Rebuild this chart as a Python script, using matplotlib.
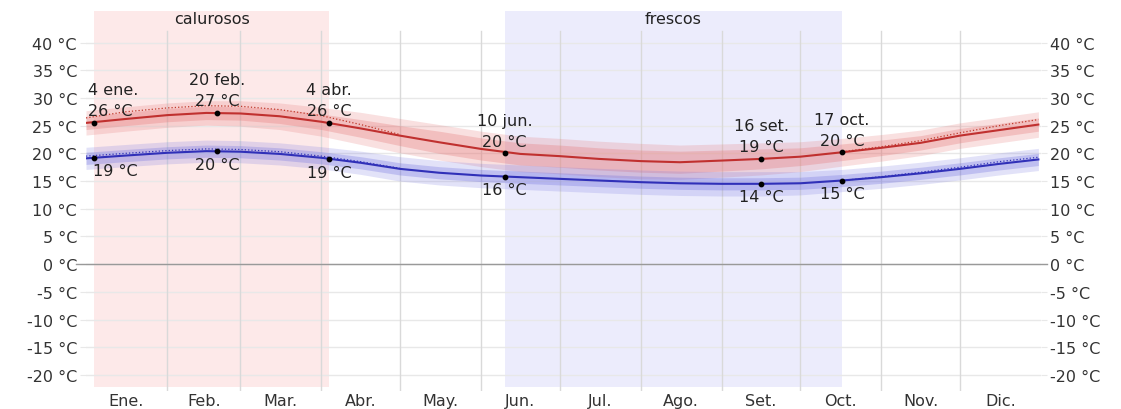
# Temperaturas máximas y mínimas promedio durante el año
import matplotlib.pyplot as plt
import numpy as np

plt.rcParams['font.family'] = ['DejaVu Sans']

# días del año (0 = 1 ene.) donde se leyeron los valores
days = [0, 15, 31, 46, 59, 74, 90, 105, 120, 135, 151, 166, 181, 196,
        212, 227, 243, 258, 273, 289, 304, 319, 334, 349, 364]

# máxima promedio (línea roja)
t_max = [25.5, 26.2, 26.9, 27.3, 27.2, 26.7, 25.7, 24.5, 23.2, 22.0, 20.8, 19.9, 19.5, 19.0,
         18.6, 18.4, 18.7, 19.0, 19.4, 20.2, 21.0, 21.9, 23.2, 24.2, 25.2]
# mínima promedio (línea azul)
t_min = [19.1, 19.6, 20.1, 20.4, 20.3, 19.9, 19.2, 18.3, 17.2, 16.5, 16.0, 15.7, 15.4, 15.1,
         14.8, 14.6, 14.5, 14.5, 14.6, 15.1, 15.7, 16.4, 17.2, 18.1, 18.9]

# semiancho de las bandas 25-75 y 10-90
max_in = [1.2, 1.2, 1.2, 1.2, 1.2, 1.3, 1.4, 1.6, 1.8, 2.0, 2.0, 2.0, 2.0, 2.0,
          2.0, 2.0, 1.9, 1.8, 1.6, 1.5, 1.4, 1.3, 1.3, 1.2, 1.2]
max_out = [2.2, 2.2, 2.2, 2.2, 2.3, 2.4, 2.6, 2.9, 3.1, 3.2, 3.2, 3.2, 3.2, 3.2,
           3.2, 3.1, 3.0, 2.9, 2.7, 2.5, 2.4, 2.3, 2.3, 2.3, 2.3]
min_in = [1.1] * 25
min_out = [2.0, 2.0, 2.0, 2.0, 2.0, 2.0, 2.0, 2.1, 2.2, 2.2, 2.2, 2.2, 2.2, 2.2,
           2.2, 2.2, 2.2, 2.2, 2.1, 2.0, 2.0, 2.0, 2.0, 2.0, 2.0]

# temperatura percibida (líneas punteadas)
feel_days_a = [0, 15, 31, 46, 59, 74, 90, 105, 120]
feel_max_a = [26.4, 27.5, 28.2, 28.6, 28.5, 27.9, 26.8, 25.2, 23.4]
feel_min_a = [19.5, 20.0, 20.5, 20.8, 20.7, 20.3, 19.5, 18.5, 17.3]
feel_days_b = [289, 304, 319, 334, 349, 364]
feel_max_b = [20.3, 21.2, 22.3, 23.7, 25.0, 26.1]
feel_min_b = [15.1, 15.8, 16.6, 17.5, 18.5, 19.3]

# puntos destacados
hi_days = [3, 50, 93, 160, 258, 289]
hi_vals = [25.5, 27.3, 25.5, 20.0, 19.0, 20.2]
hi_labels = ['26 °C', '27 °C', '26 °C', '20 °C', '19 °C', '20 °C']
hi_dates = ['4 ene.', '20 feb.', '4 abr.', '10 jun.', '16 set.', '17 oct.']
lo_days = [3, 50, 93, 160, 258, 289]
lo_vals = [19.2, 20.4, 18.9, 15.8, 14.5, 15.1]
lo_labels = ['19 °C', '20 °C', '19 °C', '16 °C', '14 °C', '15 °C']

# estaciones
hot_season = (3, 93)
cool_season = (160, 289)

months = ['Ene.', 'Feb.', 'Mar.', 'Abr.', 'May.', 'Jun.',
          'Jul.', 'Ago.', 'Set.', 'Oct.', 'Nov.', 'Dic.']
month_len = [31, 28, 31, 30, 31, 30, 31, 31, 30, 31, 30, 31]

FS = 11.5
W, H = 1121, 410
fig = plt.figure(figsize=(W / 100, H / 100), dpi=100)
ax = fig.add_axes([86 / W, 18 / H, 955 / W, 380 / H])
ax.set_xlim(0, 365)
ax.set_ylim(-22.9, 45.7)
for s in ax.spines.values():
    s.set_visible(False)

# bandas de estación
band_lo = 4 / 380
ax.axvspan(*hot_season, ymin=band_lo, ymax=1, color='#fde9e9', lw=0, zorder=0)
ax.axvspan(*cool_season, ymin=band_lo, ymax=1, color='#ececfc', lw=0, zorder=0)
xt = ax.get_xaxis_transform()
ax.text(sum(hot_season) / 2, 0.979, 'calurosos', transform=xt, ha='center', va='center',
        fontsize=FS, color='#222')
ax.text(sum(cool_season) / 2, 0.979, 'frescos', transform=xt, ha='center', va='center',
        fontsize=FS, color='#222')

# rejilla
starts = np.cumsum([0] + month_len)
for d in starts[1:-1]:
    ax.axvline(d, ymin=0, ymax=360 / 380, color='#d9d9d9', lw=1, zorder=1)
ax.set_yticks(range(-20, 45, 5))
ax.set_yticklabels([f'{v} °C' for v in range(-20, 45, 5)])
ax.yaxis.grid(True, color='#e8e8e8', lw=1, zorder=1)
ax.set_axisbelow(True)
ax.tick_params(axis='y', left=True, right=True, labelleft=True, labelright=True,
               length=4.5, color='#e8e8e8', pad=2, labelsize=FS, labelcolor='#333')
ax.plot([-0.01, 1.006], [0, 0], transform=ax.get_yaxis_transform(), color='#999',
        lw=1, clip_on=False, zorder=1)

centers = starts[:-1] + np.array(month_len) / 2
ax.set_xticks(centers)
ax.set_xticklabels(months)
ax.tick_params(axis='x', length=0, pad=1.5, labelsize=FS, labelcolor='#333')

# bandas de percentiles
d = np.array(days)
tx, tn = np.array(t_max), np.array(t_min)
ax.fill_between(d, tx - np.array(max_out), tx + np.array(max_out), color='#e57373', alpha=0.22, lw=0, zorder=2)
ax.fill_between(d, tx - np.array(max_in), tx + np.array(max_in), color='#e57373', alpha=0.3, lw=0, zorder=2)
ax.fill_between(d, tn - np.array(min_out), tn + np.array(min_out), color='#7070e0', alpha=0.2, lw=0, zorder=2)
ax.fill_between(d, tn - np.array(min_in), tn + np.array(min_in), color='#7070e0', alpha=0.3, lw=0, zorder=2)

# percibida
for fd, fv, c in [(feel_days_a, feel_max_a, '#c0392b'), (feel_days_b, feel_max_b, '#c0392b'),
                  (feel_days_a, feel_min_a, '#3434b8'), (feel_days_b, feel_min_b, '#3434b8')]:
    ax.plot(fd, fv, ls=':', color=c, lw=0.9, zorder=3)

ax.plot(d, tx, color='#c0302f', lw=1.5, zorder=4)
ax.plot(d, tn, color='#3030b8', lw=1.5, zorder=4)

ax.scatter(hi_days, hi_vals, s=10, color='black', zorder=5)
ax.scatter(lo_days, lo_vals, s=10, color='black', zorder=5)

for i, (x, v, lab, dt) in enumerate(zip(hi_days, hi_vals, hi_labels, hi_dates)):
    ha = 'left' if i == 0 else 'center'
    dx = -6 if i == 0 else 0
    ax.annotate(lab, (x, v), xytext=(dx, 12), textcoords='offset pixels',
                ha=ha, va='center', fontsize=FS, color='#222', zorder=6)
    ax.annotate(dt, (x, v), xytext=(dx, 33), textcoords='offset pixels',
                ha=ha, va='center', fontsize=FS, color='#222', zorder=6)
for i, (x, v, lab) in enumerate(zip(lo_days, lo_vals, lo_labels)):
    ha = 'left' if i == 0 else 'center'
    dx = -1 if i == 0 else 0
    ax.annotate(lab, (x, v), xytext=(dx, -13), textcoords='offset pixels',
                ha=ha, va='center', fontsize=FS, color='#222', zorder=6)

fig.savefig('out.png', dpi=100)
